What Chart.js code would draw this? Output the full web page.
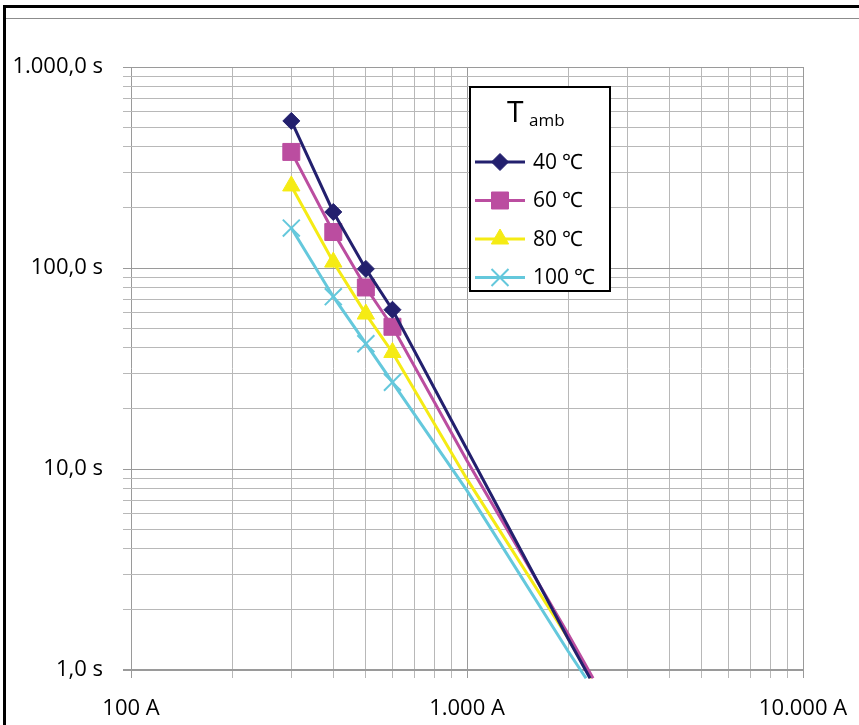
<!DOCTYPE html>
<html>
<head>
<meta charset="utf-8">
<script src="https://cdn.jsdelivr.net/npm/chart.js@4.4.1/dist/chart.umd.min.js"></script>
<style>
  html, body { margin: 0; padding: 0; background: #fff; overflow: hidden; }
  canvas { display: block; }
</style>
</head>
<body>
<canvas id="chart" width="859" height="725"></canvas>
<script>
// tripping curves: current (A) vs time (s), one pair of arrays per ambient temperature
const seriesLabels = ["40 ℃", "60 ℃", "80 ℃", "100 ℃"];

const amps40 = [300, 400, 500, 600, 1000, 2000, 2324];
const secs40 = [539, 190, 99, 62, 12.5, 1.43, 0.91];

const amps60 = [300, 400, 500, 600, 1000, 2000, 2372];
const secs60 = [378, 151, 80, 51, 11.0, 1.51, 0.91];

const amps80 = [300, 400, 500, 600, 1000, 2000, 2340];
const secs80 = [256, 107, 59, 38, 8.9, 1.44, 0.91];

const amps100 = [300, 400, 500, 600, 1000, 2000, 2261];
const secs100 = [158, 72, 42, 27, 7.8, 1.24, 0.91];

// only the measured points carry a marker
const markedPoints = 4;

const xMajor = [100, 1000, 10000];
const xTickLabels = ["100 A", "1.000 A", "10.000 A"];
const yMajor = [1, 10, 100, 1000];
const yTickLabels = ["1,0 s", "10,0 s", "100,0 s", "1.000,0 s"];

const colors = ["#23206e", "#bb4da0", "#f5eb14", "#64c8dc"];
const styles = ["rectRot", "rect", "triangle", "crossRot"];
const radii = [8.5, 12, 10, 12];

function logGrid(major) {
  const out = [];
  for (let i = 0; i < major.length - 1; i++) {
    for (let k = 1; k < 10; k++) out.push(major[i] * k);
  }
  out.push(major[major.length - 1]);
  return out;
}
const xGrid = logGrid(xMajor);
const yGrid = logGrid(yMajor);

function toPoints(xs, ys) {
  return xs.map((x, i) => ({ x: x, y: ys[i] }));
}

const allSeries = [
  toPoints(amps40, secs40),
  toPoints(amps60, secs60),
  toPoints(amps80, secs80),
  toPoints(amps100, secs100),
];

const datasets = allSeries.map((pts, i) => ({
  label: seriesLabels[i],
  data: pts,
  borderColor: colors[i],
  backgroundColor: colors[i],
  borderWidth: 3,
  pointStyle: styles[i],
  pointRadius: pts.map((p, j) => (j < markedPoints ? radii[i] : 0)),
  pointBorderWidth: styles[i] === "crossRot" ? 2 : 1,
  pointHoverRadius: 0,
  tension: 0,
  clip: { left: 0, top: 0, right: 0, bottom: 9 },
}));

const frame = {
  id: "frame",
  beforeDraw(chart) {
    const ctx = chart.ctx;
    ctx.save();
    ctx.fillStyle = "#fff";
    ctx.fillRect(0, 0, chart.width, chart.height);
    ctx.fillStyle = "#000";
    ctx.fillRect(3, 5, chart.width, 3);
    ctx.fillRect(3, 5, 3, chart.height);
    ctx.fillStyle = "#8c8c8c";
    ctx.fillRect(6, 18, chart.width, 1);
    ctx.restore();
  },
};

const legendBox = {
  id: "legendBox",
  afterDatasetsDraw(chart) {
    const ctx = chart.ctx;
    ctx.save();
    ctx.fillStyle = "#fff";
    ctx.fillRect(470, 87, 140, 204);
    ctx.strokeStyle = "#000";
    ctx.lineWidth = 2;
    ctx.strokeRect(470, 87, 140, 204);

    ctx.fillStyle = "#000";
    ctx.textBaseline = "alphabetic";
    ctx.textAlign = "left";
    ctx.font = '30px "Open Sans"';
    ctx.fillText("T", 507, 122);
    ctx.font = '17px "Open Sans"';
    ctx.fillText("amb", 529, 126);

    chart.data.datasets.forEach((ds, i) => {
      const y = 162 + i * 38.5;
      ctx.strokeStyle = ds.borderColor;
      ctx.fillStyle = ds.backgroundColor;
      ctx.lineWidth = 3;
      ctx.beginPath();
      ctx.moveTo(475, y);
      ctx.lineTo(525, y);
      ctx.stroke();
      ctx.lineWidth = ds.pointBorderWidth;
      Chart.helpers.drawPoint(ctx, {
        pointStyle: ds.pointStyle,
        radius: radii[i],
        rotation: 0,
        borderWidth: ds.pointBorderWidth,
      }, 500, y);
      ctx.fillStyle = "#000";
      ctx.font = '21px "Open Sans"';
      ctx.textBaseline = "middle";
      ctx.fillText(ds.label, 533, y + 1);
    });
    ctx.restore();
  },
};

function gridColor(ctx, major) {
  const v = ctx.tick ? ctx.tick.value : null;
  return major.includes(v) ? "#9a9a9a" : "#b8b8b8";
}

new Chart(document.getElementById("chart").getContext("2d"), {
  type: "line",
  data: { datasets: datasets },
  plugins: [frame, legendBox],
  options: {
    responsive: false,
    animation: false,
    devicePixelRatio: 1,
    layout: { padding: { top: 67, right: 56, left: 0, bottom: 0 } },
    plugins: {
      legend: { display: false },
      tooltip: { enabled: false },
    },
    scales: {
      x: {
        type: "logarithmic",
        position: "bottom",
        min: 100,
        max: 10000,
        afterBuildTicks: (s) => { s.ticks = xGrid.map((v) => ({ value: v })); },
        afterFit: (s) => {
          s.height = 55;
          s.paddingLeft = 20;
          s.paddingRight = 20;
        },
        ticks: {
          autoSkip: false,
          maxRotation: 0,
          padding: 18,
          color: "#000",
          font: { family: "Open Sans", size: 22 },
          callback: (v) => {
            const i = xMajor.indexOf(v);
            return i >= 0 ? xTickLabels[i] : "";
          },
        },
        grid: {
          color: (c) => gridColor(c, xMajor),
          tickLength: 8,
          lineWidth: 1,
        },
        border: { display: false },
      },
      y: {
        type: "logarithmic",
        min: 1,
        max: 1000,
        afterBuildTicks: (s) => { s.ticks = yGrid.map((v) => ({ value: v })); },
        afterFit: (s) => {
          s.width = 131;
          s.paddingTop = 10;
          s.paddingBottom = 10;
        },
        ticks: {
          autoSkip: false,
          padding: 20,
          color: "#000",
          font: { family: "Open Sans", size: 22 },
          callback: (v) => {
            const i = yMajor.indexOf(v);
            return i >= 0 ? yTickLabels[i] : "";
          },
        },
        grid: {
          color: (c) => gridColor(c, yMajor),
          lineWidth: (c) => (c.tick && c.tick.value === 1 ? 2 : 1),
          tickLength: 8,
        },
        border: { display: false },
      },
    },
  },
});
</script>
</body>
</html>
